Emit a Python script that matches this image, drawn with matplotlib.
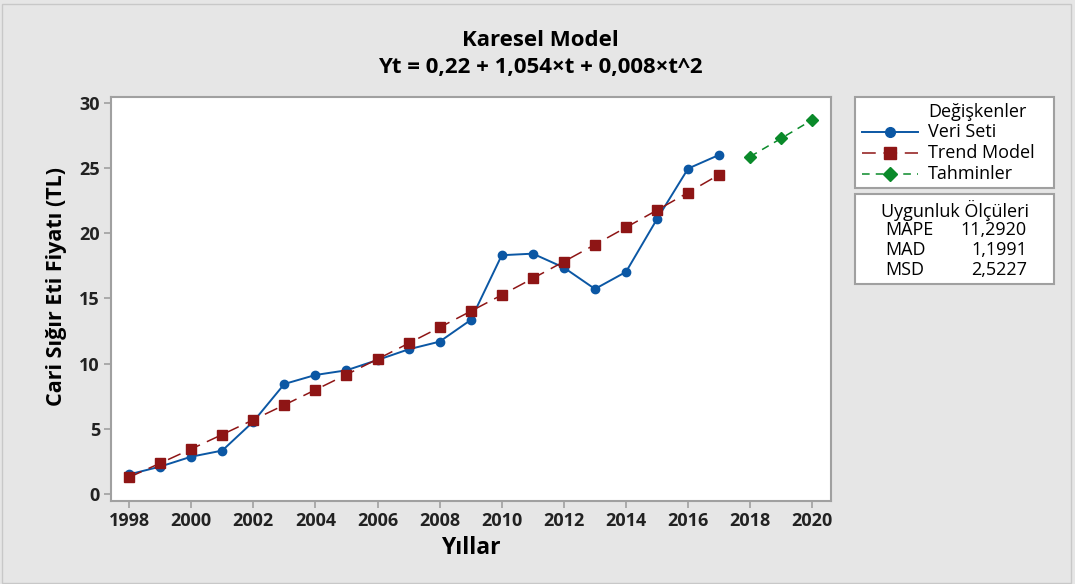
import numpy as np
import matplotlib.pyplot as plt
from matplotlib.patches import Rectangle
from matplotlib.lines import Line2D

plt.rcParams['font.family'] = ['Open Sans', 'DejaVu Sans']

years = list(range(1998, 2018))
veri_seti = [1.5, 2.1, 2.86, 3.33, 5.55, 8.44, 9.13, 9.49, 10.28, 11.1,
             11.69, 13.35, 18.32, 18.44, 17.37, 15.73, 17.04, 21.1, 24.97, 26.02]
trend = [1.28, 2.36, 3.45, 4.56, 5.69, 6.83, 7.99, 9.16, 10.35, 11.56,
         12.78, 14.02, 15.27, 16.54, 17.83, 19.13, 20.45, 21.78, 23.13, 24.5]
forecast_years = [2018, 2019, 2020]
tahminler = [25.89, 27.29, 28.71]

fit_names = ["MAPE", "MAD", "MSD"]
fit_values = ["11,2920", "1,1991", "2,5227"]

bg = "#e6e6e6"
edge = "#a0a0a0"
blue = "#0b57a4"
red = "#8e1515"
green = "#0a8a2a"

W, H = 1075, 584


def fx(px):
    return px / W


def fy(py):
    return 1 - py / H


fig = plt.figure(figsize=(10.75, 5.84), dpi=100, facecolor=bg)
fig.patches.append(Rectangle((0.002, 0.002), 0.994, 0.992, transform=fig.transFigure,
                             fill=False, edgecolor="#c8c8c8", lw=1))
ax = fig.add_axes([0.1033, 0.1421, 0.670, 0.6918])
ax.set_facecolor("white")

styles = [
    dict(color=blue, marker="o", ms=6, lw=1.4, ls="-"),
    dict(color=red, marker="s", ms=7.5, lw=1.1, ls=(0, (9, 5))),
    dict(color=green, marker="D", ms=6.5, lw=1.1, ls=(0, (5, 4))),
]
ax.plot(years, veri_seti, **styles[0])
ax.plot(years, trend, **styles[1])
ax.plot(forecast_years, tahminler, **styles[2])

ax.set_xlim(1997.42, 2020.61)
ax.set_ylim(-0.54, 30.46)
ax.set_xticks(range(1998, 2021, 2))
ax.set_yticks(range(0, 31, 5))
for s in ax.spines.values():
    s.set_color(edge)
    s.set_linewidth(1.5)
ax.tick_params(color=edge, width=1.2, length=5, labelsize=13, pad=3)
for lab in ax.get_xticklabels() + ax.get_yticklabels():
    lab.set_fontweight("bold")
    lab.set_color("#222222")

ax.set_xlabel("Yıllar", fontsize=16.5, fontweight="bold", labelpad=4)
ax.set_ylabel("Cari Sığır Eti Fiyatı (TL)", fontsize=15.5, fontweight="bold")
ax.yaxis.set_label_coords(-0.061, 0.532)

fig.text(0.503, fy(41), "Karesel Model", ha="center", va="center", fontsize=16, fontweight="bold")
fig.text(0.503, fy(68), "Yt = 0,22 + 1,054×t + 0,008×t^2", ha="center", va="center",
         fontsize=16, fontweight="bold")

# legend box
fig.patches.append(Rectangle((fx(855), fy(188)), fx(199), 91 / H, transform=fig.transFigure,
                             facecolor="white", edgecolor=edge, lw=1.5))
fig.text(fx(928), fy(112), "Değişkenler", ha="left", va="center", fontsize=13)
labels = ["Veri Seti", "Trend Model", "Tahminler"]
for i, (lab, st) in enumerate(zip(labels, styles)):
    yy = fy(132 + i * 21)
    fig.lines.append(Line2D([fx(862), fx(918)], [yy, yy], transform=fig.transFigure,
                            color=st["color"], lw=st["lw"], ls=st["ls"]))
    fig.lines.append(Line2D([fx(890)], [yy], transform=fig.transFigure, color=st["color"],
                            marker=st["marker"], ms=st["ms"] + 1, ls="none"))
    fig.text(fx(928), yy, lab, ha="left", va="center", fontsize=13)

# fit statistics box
fig.patches.append(Rectangle((fx(855), fy(284)), fx(199), 90 / H, transform=fig.transFigure,
                             facecolor="white", edgecolor=edge, lw=1.5))
fig.text(fx(955), fy(210), "Uygunluk Ölçüleri", ha="center", va="center", fontsize=13)
for i, (n, v) in enumerate(zip(fit_names, fit_values)):
    yy = fy(230 + i * 20)
    fig.text(fx(885), yy, n, ha="left", va="center", fontsize=13)
    fig.text(fx(1027), yy, v, ha="right", va="center", fontsize=13)

fig.savefig("out.png", dpi=100, facecolor=bg)
